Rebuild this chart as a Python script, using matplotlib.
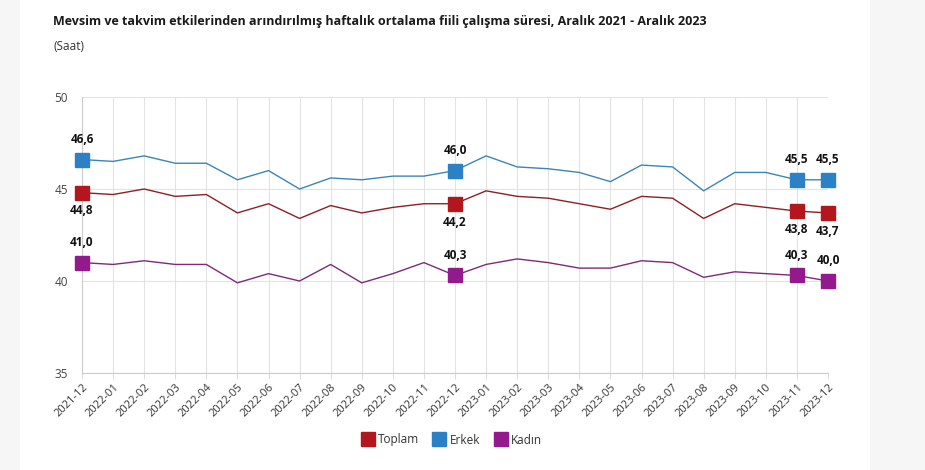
import numpy as np
import matplotlib.pyplot as plt
from matplotlib.patches import Rectangle
from matplotlib.lines import Line2D

plt.rcParams['font.family'] = ['Open Sans', 'DejaVu Sans']

months = ["2021-12", "2022-01", "2022-02", "2022-03", "2022-04", "2022-05", "2022-06",
          "2022-07", "2022-08", "2022-09", "2022-10", "2022-11", "2022-12", "2023-01",
          "2023-02", "2023-03", "2023-04", "2023-05", "2023-06", "2023-07", "2023-08",
          "2023-09", "2023-10", "2023-11", "2023-12"]

toplam = [44.8, 44.7, 45.0, 44.6, 44.7, 43.7, 44.2, 43.4, 44.1, 43.7, 44.0, 44.2, 44.2,
          44.9, 44.6, 44.5, 44.2, 43.9, 44.6, 44.5, 43.4, 44.2, 44.0, 43.8, 43.7]
erkek = [46.6, 46.5, 46.8, 46.4, 46.4, 45.5, 46.0, 45.0, 45.6, 45.5, 45.7, 45.7, 46.0,
         46.8, 46.2, 46.1, 45.9, 45.4, 46.3, 46.2, 44.9, 45.9, 45.9, 45.5, 45.5]
kadin = [41.0, 40.9, 41.1, 40.9, 40.9, 39.9, 40.4, 40.0, 40.9, 39.9, 40.4, 41.0, 40.3,
         40.9, 41.2, 41.0, 40.7, 40.7, 41.1, 41.0, 40.2, 40.5, 40.4, 40.3, 40.0]

labelled = [0, 12, 23, 24]

series = [
    ("Toplam", toplam, "#b3161d", "#8f1f25", "below"),
    ("Erkek", erkek, "#2b80c6", "#3a86b8", "above"),
    ("Kadın", kadin, "#931a8c", "#7e2a78", "above"),
]

fig = plt.figure(figsize=(9.25, 4.7), dpi=100)
fig.patch.set_facecolor("white")

# side decoration strips
fig.add_artist(Rectangle((0, 0), 20 / 925, 1, transform=fig.transFigure,
                         facecolor="#f6f6f6", edgecolor="none", zorder=-5))
fig.add_artist(Rectangle((870 / 925, 0), 55 / 925, 1, transform=fig.transFigure,
                         facecolor="#f6f6f6", edgecolor="none", zorder=-5))

ax = fig.add_axes([82 / 925, 97 / 470, 746 / 925, 276 / 470])
x = np.arange(len(months))

for name, vals, mcol, lcol, pos in series:
    ax.plot(x, vals, color=lcol, lw=1.0, zorder=3)
    ax.plot([x[i] for i in labelled], [vals[i] for i in labelled], ls="none",
            marker="s", ms=9.5, color=mcol, zorder=4, clip_on=False)
    for i in labelled:
        txt = f"{vals[i]:.1f}".replace(".", ",")
        if pos == "above":
            ax.annotate(txt, (x[i], vals[i]), xytext=(0, 10), textcoords="offset points",
                        ha="center", va="bottom", fontsize=8.5, fontweight="bold",
                        color="#111111", zorder=5)
        else:
            ax.annotate(txt, (x[i], vals[i]), xytext=(0, -8.5), textcoords="offset points",
                        ha="center", va="top", fontsize=8.5, fontweight="bold",
                        color="#111111", zorder=5)

ax.set_xlim(0, len(months) - 1)
ax.set_ylim(35, 50)
ax.set_yticks([35, 40, 45, 50])
ax.set_xticks(x)
ax.set_xticklabels(months, rotation=45, ha="right", rotation_mode="anchor",
                   fontsize=8, color="#333333")
ax.tick_params(axis="y", labelsize=8.5, colors="#444444", length=0, pad=10)
ax.tick_params(axis="x", length=4, color="#dddddd", pad=2)
ax.grid(True, color="#e3e3e3", lw=0.8)
ax.set_axisbelow(True)
for s in ["top", "right"]:
    ax.spines[s].set_visible(False)
ax.spines["left"].set_color("#cccccc")
ax.spines["bottom"].set_color("#cccccc")

fig.text(53 / 925, 1 - 22 / 470, "Mevsim ve takvim etkilerinden arındırılmış haftalık ortalama fiili çalışma süresi, Aralık 2021 - Aralık 2023",
         fontsize=9.0, fontweight="bold", color="#1a1a1a", va="center", ha="left")
fig.text(53 / 925, 1 - 47 / 470, "(Saat)", fontsize=8.5, color="#333333", va="center", ha="left")

handles = [Line2D([], [], ls="none", marker="s", ms=10, color=c) for _, _, c, _, _ in series]
fig.legend(handles, [s[0] for s in series], loc="center", bbox_to_anchor=(452 / 925, 1 - 440 / 470),
           ncol=3, frameon=False, fontsize=8.5, handletextpad=0.4, columnspacing=1.2,
           handlelength=1.0, labelcolor="#333333")

fig.savefig("out.png", dpi=100)
